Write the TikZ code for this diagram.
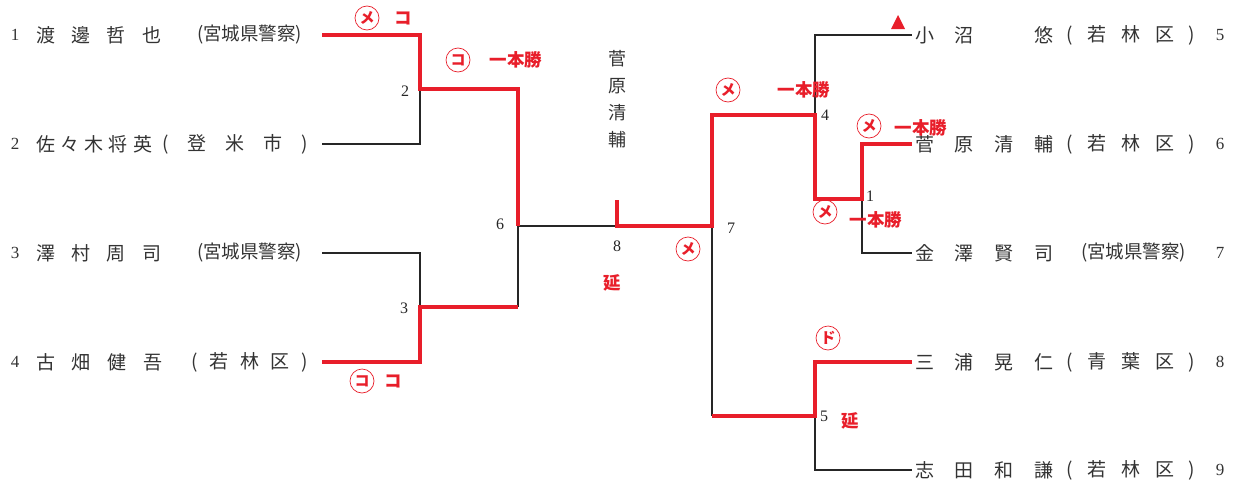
\documentclass[tikz,border=0pt]{standalone}
\usepackage{fontspec}
\setmainfont{Liberation Serif}
\newfontfamily\jp{Noto Sans CJK JP}
\definecolor{hitred}{RGB}{232,30,42}
\newcommand{\spreadbox}[2]{\makebox[#1][s]{#2}}

\begin{document}
\begin{tikzpicture}[x=1pt,y=-1pt,
  player/.style={inner sep=0pt,anchor=west,text=black!80,font=\jp\fontsize{19}{23}\selectfont},
  club/.style={inner sep=0pt,anchor=west,text=black!80,font=\jp\fontsize{18.5}{20}\selectfont},
  num/.style={inner sep=0pt,text=black!80,font=\fontsize{17}{20}\selectfont},
  knum/.style={inner sep=0pt,text=black!85,font=\fontsize{16}{18}\selectfont},
  win/.style={draw=hitred,line width=4pt},
  lose/.style={draw=black!85,line width=1.1pt},
  waza/.style={circle,draw=hitred,line width=0.7pt,minimum size=24pt,inner sep=0pt,
    text=hitred,font=\jp\bfseries\fontsize{15}{15}\selectfont},
  kekka/.style={inner sep=0pt,text=hitred,font=\jp\bfseries\fontsize{17.5}{18}\selectfont}]

\useasboundingbox (0,0) rectangle (1233,479);

% left players
\node[num] (l1n) at (15,35) {1};
\node[player] (l1s) at (36,35) {\spreadbox{125pt}{渡 邊 哲 也}};
\node[club] (l1c) at (197,35) {(宮城県警察)};
\node[num] (l2n) at (15,144) {2};
\node[player] (l2s) at (36,144) {\spreadbox{116pt}{佐 々 木 将 英}};
\node[player] (l2c) at (162,144) {\spreadbox{146pt}{( 登 米 市 )}};
\node[num] (l3n) at (15,253) {3};
\node[player] (l3s) at (36,253) {\spreadbox{125pt}{澤 村 周 司}};
\node[club] (l3c) at (197,253) {(宮城県警察)};
\node[num] (l4n) at (15,362) {4};
\node[player] (l4s) at (36,362) {\spreadbox{126pt}{古 畑 健 吾}};
\node[player] (l4c) at (191,362) {\spreadbox{117pt}{( 若 林 区 )}};

% right players
\node[player] (r5s) at (915,35) {\spreadbox{138pt}{小 沼 \phantom{悠} 悠}};
\node[player] (r5c) at (1066,35) {\spreadbox{129pt}{( 若 林 区 )}};
\node[num] (r5n) at (1220,35) {5};
\node[player] (r6s) at (915,144) {\spreadbox{138pt}{菅 原 清 輔}};
\node[player] (r6c) at (1066,144) {\spreadbox{129pt}{( 若 林 区 )}};
\node[num] (r6n) at (1220,144) {6};
\node[player] (r7s) at (915,253) {\spreadbox{138pt}{金 澤 賢 司}};
\node[club] (r7c) at (1081,253) {(宮城県警察)};
\node[num] (r7n) at (1220,253) {7};
\node[player] (r8s) at (915,362) {\spreadbox{138pt}{三 浦 晃 仁}};
\node[player] (r8c) at (1066,362) {\spreadbox{129pt}{( 青 葉 区 )}};
\node[num] (r8n) at (1220,362) {8};
\node[player] (r9s) at (915,470) {\spreadbox{138pt}{志 田 和 謙}};
\node[player] (r9c) at (1066,470) {\spreadbox{129pt}{( 若 林 区 )}};
\node[num] (r9n) at (1220,470) {9};

% champion
\node[player,anchor=center,align=center,font=\jp\fontsize{18}{27}\selectfont] (champ) at (617,99) {菅\\原\\清\\輔};

% bracket points
\coordinate (p1) at (322,35);  \coordinate (a1) at (420,35);
\coordinate (p2) at (322,144); \coordinate (a2) at (420,144);
\coordinate (p3) at (322,253); \coordinate (a3) at (420,253);
\coordinate (p4) at (322,362); \coordinate (a4) at (420,362);
\coordinate (m2) at (420,89);  \coordinate (b2) at (518,89);
\coordinate (m3) at (420,307); \coordinate (b3) at (518,307);
\coordinate (m6) at (518,226);
\coordinate (f8) at (617,226); \coordinate (f8top) at (617,200);
\coordinate (m7) at (712,226);
\coordinate (c4) at (712,115); \coordinate (m4) at (815,115);
\coordinate (c5) at (712,416); \coordinate (m5) at (815,416);
\coordinate (q5) at (815,35);  \coordinate (r5) at (912,35);
\coordinate (d1) at (815,199); \coordinate (m1) at (862,199);
\coordinate (e6) at (862,144); \coordinate (r6) at (912,144);
\coordinate (e7) at (862,253); \coordinate (r7) at (912,253);
\coordinate (g8) at (815,362); \coordinate (r8) at (912,362);
\coordinate (g9) at (815,470); \coordinate (r9) at (912,470);

% losers
\draw[lose] (p2) -- (a2) -- (m2);
\draw[lose] (p3) -- (a3) -- (m3);
\draw[lose] (b3) -- (m6) -- (f8);
\draw[lose] (m7) -- (c5);
\draw[lose] (m4) -- (q5) -- (r5);
\draw[lose] (m1) -- (e7) -- (r7);
\draw[lose] (m5) -- (g9) -- (r9);

% winners
\draw[win] (p1) -- (a1) -- (m2) -- (b2) -- (m6);
\draw[win] (p4) -- (a4) -- (m3) -- (b3);
\draw[win] (f8top) -- (f8) -- (m7) -- (c4) -- (m4) -- (d1) -- (m1) -- (e6) -- (r6);
\draw[win] (c5) -- (m5) -- (g8) -- (r8);

% match numbers
\node[knum] (k2) at (405,91) {2};
\node[knum] (k3) at (404,308) {3};
\node[knum] (k6) at (500,224) {6};
\node[knum] (k8) at (617,246) {8};
\node[knum] (k7) at (731,228) {7};
\node[knum] (k4) at (825,115) {4};
\node[knum] (k1) at (870,196) {1};
\node[knum] (k5) at (824,416) {5};

% results
\node[waza] (w1) at (367,18) {メ};
\node[kekka] (w1b) at (403,18) {コ};
\node[waza] (w2) at (458,60) {コ};
\node[kekka] (w2b) at (516,60) {一本勝};
\node[waza] (w3) at (362,381) {コ};
\node[kekka] (w3b) at (393,381) {コ};
\node[kekka] (w8) at (612,283) {延};
\node[waza] (w7) at (688,249) {メ};
\node[waza] (w4) at (728,90) {メ};
\node[kekka] (w4b) at (804,90) {一本勝};
\node[waza] (w6) at (869,126) {メ};
\node[kekka] (w6b) at (921,128) {一本勝};
\node[waza] (w0) at (825,212) {メ};
\node[kekka] (w0b) at (876,220) {一本勝};
\node[waza] (w5) at (828,338) {ド};
\node[kekka] (w5b) at (850,421) {延};
\fill[hitred] (891,29) -- (905,29) -- (898,15) -- cycle;
\end{tikzpicture}
\end{document}
